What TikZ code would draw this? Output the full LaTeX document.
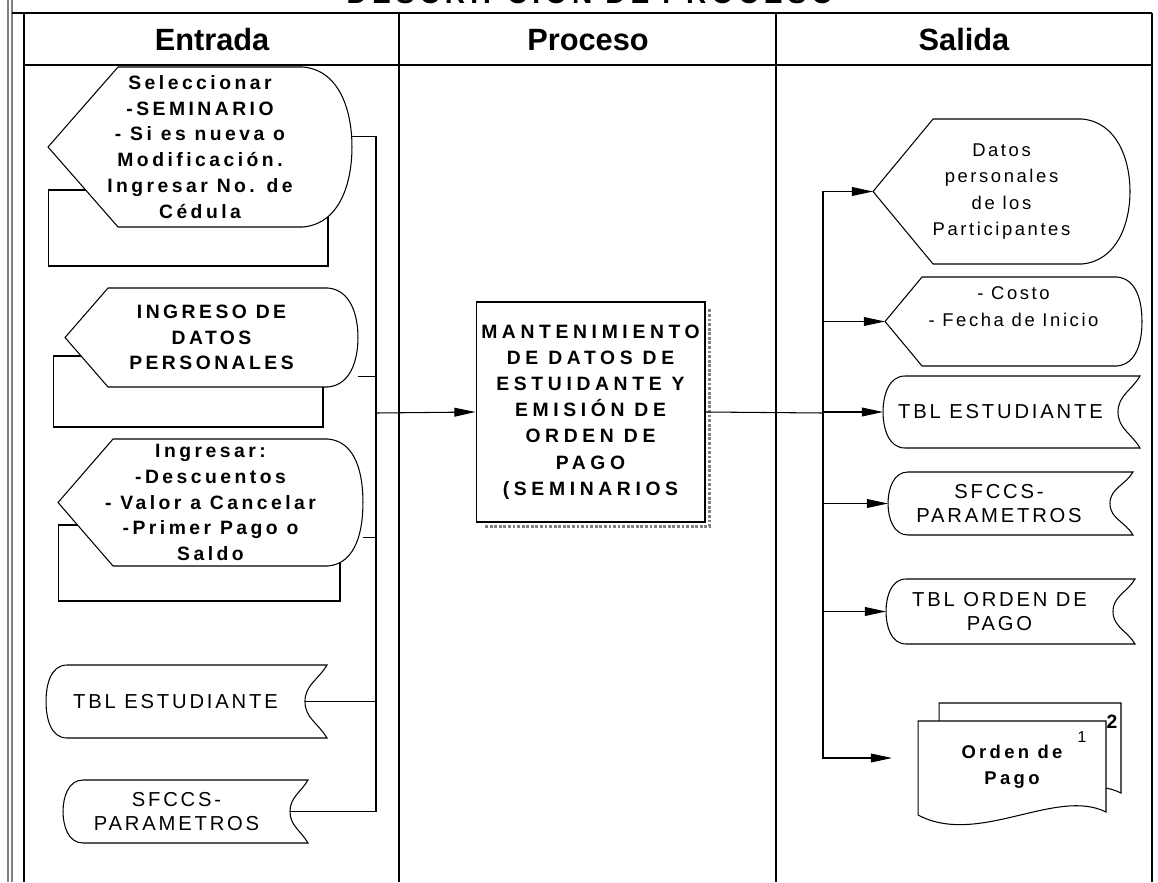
\documentclass[tikz,border=0pt]{standalone}
\usepackage{fontspec}
\setmainfont{Liberation Sans}
\newfontfamily\widefont{Liberation Sans}[LetterSpace=18]
\newfontfamily\widerfont{Liberation Sans}[LetterSpace=24]
\newfontfamily\thinfont{Liberation Sans}[LetterSpace=14]
\usepackage{tikz}
\usetikzlibrary{arrows.meta, positioning, calc, backgrounds}
\tikzset{
  hdr/.style={font=\bfseries\fontsize{17.5}{20}\selectfont},
  titletext/.style={font=\widefont\bfseries\fontsize{16}{18}\selectfont},
  dispin/.style={inner sep=0pt, outer sep=0pt, align=center,
    font=\widefont\bfseries\fontsize{11}{14.7}\selectfont},
  dispout/.style={inner sep=0pt, outer sep=0pt, align=center,
    font=\thinfont\fontsize{10.5}{14.9}\selectfont},
  storenode/.style={inner sep=0pt, outer sep=0pt, align=center,
    font=\thinfont\fontsize{11.5}{14}\selectfont},
  procnode/.style={draw=black, fill=white, line width=0.6pt, inner sep=0pt,
    align=center, font=\widerfont\bfseries\fontsize{11}{14.9}\selectfont},
  docnode/.style={inner sep=0pt, outer sep=0pt, align=center,
    font=\widefont\bfseries\fontsize{10.5}{15}\selectfont},
  pagenum/.style={inner sep=0pt, font=\fontsize{9}{10}\selectfont},
  shapeline/.style={draw=black, fill=white, line width=0.6pt},
  shadowline/.style={draw=gray, line width=1.6pt, densely dotted},
  arrow/.style={-{Triangle[length=12pt,width=5pt]}, line width=0.6pt, color=black},
  line/.style={line width=0.6pt, color=black},
  grid/.style={line width=0.7pt, color=black},
  frame/.style={line width=0.9pt, color=gray}
}
% display symbol: name, slant of the point, radius of the round end
\newcommand{\dispoutline}[3]{%
  \draw[shapeline] (#1.west) -- ($(#1.north west)+(#2,0)$) -- ($(#1.north east)+(-#3,0)$)
    to[out=-5,in=90] (#1.east) to[out=-90,in=5] ($(#1.south east)+(-#3,0)$)
    -- ($(#1.south west)+(#2,0)$) -- cycle;}
% stored data symbol: name, left radius, right depth
\newcommand{\storeoutline}[3]{%
  \draw[shapeline] ($(#1.north west)+(#2,0)$) -- ($(#1.north east)+(#3,0)$)
    to[out=-120,in=90] (#1.east) to[out=-90,in=120] ($(#1.south east)+(#3,0)$)
    -- ($(#1.south west)+(#2,0)$) to[out=180,in=-90] (#1.west)
    to[out=90,in=180] ($(#1.north west)+(#2,0)$) -- cycle;}
\begin{document}
\begin{tikzpicture}[x=0.02cm, y=-0.02cm]
  \useasboundingbox (0,0) rectangle (1158,882);
  \clip (0,0) rectangle (1158,882);

  % Title and table
  \node[titletext, anchor=base] (title) at (590,4) {DESCRIPCIÓN DE PROCESO};
  \draw[frame] (8,0) -- (8,882);
  \draw[frame] (12,0) -- (12,882);
  \draw[grid, line width=1pt] (12,13) -- (1152,13);
  \draw[grid] (24,65) -- (1152,65);
  \foreach \gx in {24,399,776,1152}
    \draw[grid] (\gx,13) -- (\gx,882);

  \node[hdr] (hdrin) at (212,40) {Entrada};
  \node[hdr] (hdrproc) at (588,40) {Proceso};
  \node[hdr] (hdrout) at (964,40) {Salida};

  % Entrada
  \node[dispin, minimum width=6.08cm, minimum height=3.2cm] (in1) at (200,147)
    {Seleccionar\\-SEMINARIO\\- Si es nueva o\\Modificación.\\Ingresar No. de\\Cédula};
  \node[dispin, minimum width=5.86cm, minimum height=1.98cm] (in2) at (211.5,337.5)
    {INGRESO DE\\DATOS\\PERSONALES};
  \node[dispin, minimum width=6.10cm, minimum height=2.54cm] (in3) at (210.5,502.5)
    {Ingresar:\\-Descuentos\\- Valor a Cancelar\\-Primer Pago o\\Saldo};
  \node[storenode, minimum width=5.18cm, minimum height=1.46cm] (tbl1) at (175.5,701.5)
    {TBL ESTUDIANTE};
  \node[storenode, minimum width=4.54cm, minimum height=1.26cm] (sfc1) at (176.5,811.5)
    {SFCCS-\\PARAMETROS};

  % Proceso
  \node[procnode, minimum width=4.58cm, minimum height=4.4cm] (proc) at (590.5,412)
    {MANTENIMIENTO\\DE DATOS DE\\ESTUIDANTE Y\\EMISIÓN DE\\ORDEN DE\\PAGO\\(SEMINARIOS};

  % Salida
  \node[dispout, minimum width=5.14cm, minimum height=2.9cm] (out1) at (1001.5,191.5)
    {Datos\\personales\\de los\\Participantes};
  \node[dispout, minimum width=5.14cm, minimum height=1.78cm, text depth=0.6cm] (out2) at (1013.5,321.5)
    {- Costo\\- Fecha de Inicio};
  \node[storenode, minimum width=4.70cm, minimum height=1.44cm] (tbl2) at (1000.5,412)
    {TBL ESTUDIANTE};
  \node[storenode, minimum width=4.44cm, minimum height=1.26cm] (sfc2) at (999,503.5)
    {SFCCS-\\PARAMETROS};
  \node[storenode, minimum width=4.54cm, minimum height=1.30cm] (tblop) at (999.5,611.5)
    {TBL ORDEN DE\\PAGO};
  \node[docnode, minimum width=3.76cm, minimum height=1.82cm] (doc) at (1012,766.5)
    {Orden de\\Pago};
  \node[pagenum] (pg1) at ($(doc.north east)+(-24,16)$) {1};
  \node[pagenum, font=\bfseries\fontsize{11}{12}\selectfont] (pg2) at ($(doc.north east)+(6,1)$) {2};

  % Outlines
  \begin{scope}[on background layer]
    \draw[shapeline] ($(in1.south west)+(0,-37)$) rectangle ($(in1.south east)+(-24,39)$);
    \draw[shapeline] ($(in2.south west)+(-12,-31)$) rectangle ($(in2.south east)+(-35,40)$);
    \draw[shapeline] ($(in3.south west)+(0,-41)$) rectangle ($(in3.south east)+(-23,35)$);
    \dispoutline{in1}{70}{49}
    \dispoutline{in2}{43}{30}
    \dispoutline{in3}{55}{35}
    \dispoutline{out1}{60}{48}
    \dispoutline{out2}{37}{25}
    \storeoutline{tbl1}{21}{22}
    \storeoutline{sfc1}{20}{18}
    \storeoutline{tbl2}{22}{22}
    \storeoutline{sfc2}{20}{23}
    \storeoutline{tblop}{20}{22}
    \draw[shadowline] ($(proc.north east)+(4,8)$) -- ($(proc.south east)+(4,4)$) -- ($(proc.south west)+(8,4)$);
    \draw[shapeline] ($(doc.north west)+(21,-18)$) -- ($(doc.north east)+(15,-18)$)
      -- ($(doc.south east)+(15,-19)$)
      .. controls ($(doc.south east)+(-35,-44)$) and ($(doc.south west)+(81,19)$) .. ($(doc.south west)+(21,-16)$) -- cycle;
    \draw[shapeline] (doc.north west) -- (doc.north east) -- (doc.south east)
      .. controls ($(doc.south east)+(-50,-25)$) and ($(doc.south west)+(60,35)$) .. ($(doc.south west)+(0,3)$) -- cycle;
  \end{scope}

  % Connectors
  \coordinate (inbus) at (376,413);
  \coordinate (outbus) at (823,413);
  \coordinate (docin) at (892,758);
  \draw[line] (in1.4) -| (inbus);
  \draw[line] (in2.-15) -| (inbus);
  \draw[line] (in3.-13) -| (inbus);
  \draw[line] (tbl1.east) -| (inbus);
  \draw[line] (sfc1.east) -| (inbus);
  \draw[arrow] (inbus) -- (proc.west);
  \draw[line] (proc.east) -- (outbus);
  \draw[arrow] (outbus) |- (out1.west);
  \draw[arrow] (outbus) |- (out2.west);
  \draw[arrow] (outbus) |- (tbl2.west);
  \draw[arrow] (outbus) |- (sfc2.west);
  \draw[arrow] (outbus) |- (tblop.west);
  \draw[arrow] (outbus) |- (docin);
\end{tikzpicture}
\end{document}
